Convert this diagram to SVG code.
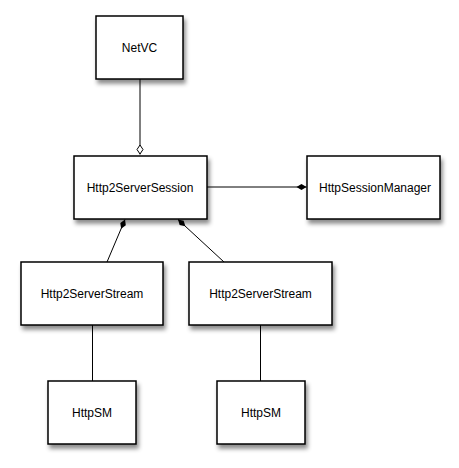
<svg xmlns="http://www.w3.org/2000/svg" width="459" height="468" viewBox="0 0 459 468">
<style>
.box{fill:#fff;stroke:#000;stroke-width:1.5;filter:url(#sh)}
.lbl{font-family:"Liberation Sans",Arial,sans-serif;font-size:12px;fill:#000;text-anchor:middle}
.ln{stroke:#000;stroke-width:1;fill:none}
</style>
<defs>
<filter id="sh" x="-20%" y="-20%" width="150%" height="160%">
<feDropShadow dx="2" dy="4" stdDeviation="2" flood-color="#000" flood-opacity="0.45"/>
</filter>
<marker id="od" markerUnits="userSpaceOnUse" markerWidth="12" markerHeight="8" refX="0" refY="4" orient="auto" viewBox="0 0 12 8">
<path d="M0.5,4 L5,1 L9.5,4 L5,7 Z" fill="#fff" stroke="#000" stroke-width="1"/>
</marker>
<marker id="fd" markerUnits="userSpaceOnUse" markerWidth="12" markerHeight="8" refX="0" refY="4" orient="auto" viewBox="0 0 12 8">
<path d="M0,4 L5,1 L10,4 L5,7 Z" fill="#000"/>
</marker>
</defs>
<g id="connectors">
<path class="ln" d="M140,154.5 L140,79" marker-start="url(#od)"/>
<path class="ln" d="M306.5,187 L207,187" marker-start="url(#fd)"/>
<path class="ln" d="M125,219.5 L107,262" marker-start="url(#fd)"/>
<path class="ln" d="M178,219.5 L224,262" marker-start="url(#fd)"/>
<path class="ln" d="M92.5,325 L92.5,381"/>
<path class="ln" d="M260.5,325 L260.5,381"/>
</g>
<g id="netvc"><rect class="box" x="96" y="16" width="87" height="63"/><text class="lbl" x="139.5" y="52">NetVC</text></g>
<g id="session"><rect class="box" x="74" y="156" width="133" height="63"/><text class="lbl" x="140" y="192">Http2ServerSession</text></g>
<g id="manager"><rect class="box" x="307" y="156" width="133" height="63"/><text class="lbl" x="375" y="192">HttpSessionManager</text></g>
<g id="stream1"><rect class="box" x="21" y="262" width="142" height="63"/><text class="lbl" x="92" y="298">Http2ServerStream</text></g>
<g id="stream2"><rect class="box" x="189" y="262" width="143" height="63"/><text class="lbl" x="260.5" y="298">Http2ServerStream</text></g>
<g id="sm1"><rect class="box" x="48" y="381" width="88" height="63"/><text class="lbl" x="92" y="417">HttpSM</text></g>
<g id="sm2"><rect class="box" x="217" y="381" width="88" height="63"/><text class="lbl" x="261" y="417">HttpSM</text></g>
</svg>
